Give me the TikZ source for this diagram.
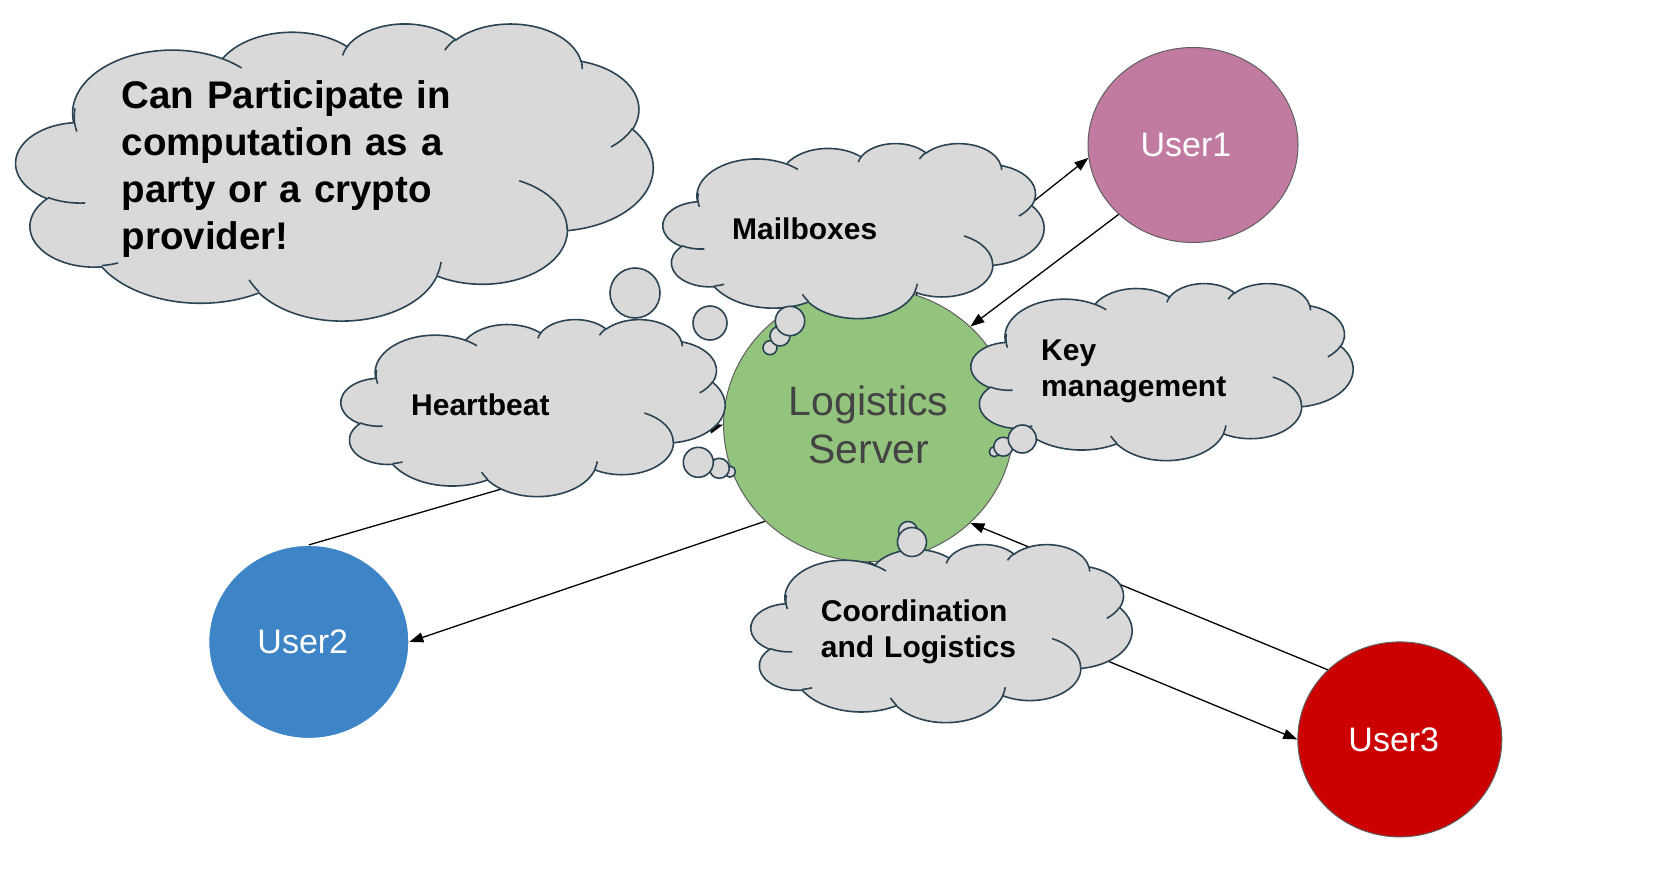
\documentclass[tikz,border=0pt]{standalone}
\usepackage{fontspec}
\setmainfont{Liberation Sans}
\usetikzlibrary{arrows.meta,shapes.geometric}
\definecolor{cloudfill}{HTML}{D9D9D9}
\definecolor{cloudline}{HTML}{2B4454}
\definecolor{serverfill}{HTML}{93C47D}
\definecolor{uonefill}{HTML}{C27BA0}
\definecolor{utwofill}{HTML}{3D85C6}
\definecolor{uthreefill}{HTML}{CC0000}
\definecolor{ringline}{HTML}{5F5F5F}
\definecolor{servertext}{HTML}{434343}
\tikzset{
  blob/.style={ellipse, draw=ringline, line width=1pt, inner sep=0pt},
  usertext/.style={text=white, font=\fontsize{34}{40}\selectfont},
  link/.style={line width=1.3pt, -{Triangle[length=14pt,width=10pt]}},
  plainlink/.style={line width=1.3pt},
  cloudbody/.style={fill=cloudfill, draw=cloudline, line width=1.6pt},
  cloudcrease/.style={draw=cloudline, line width=1.6pt},
  bubble/.style={fill=cloudfill, draw=cloudline, line width=1.6pt},
  cloudtext/.style={anchor=base west, inner sep=0pt, text width=#1, align=left,
    font=\bfseries\fontsize{30}{36}\selectfont},
}
\newcommand\cloudat[4]{%
  \begin{scope}[shift={(#1,#2)}, xscale=#3/100, yscale=#4/100]
    \path[cloudbody] (9.028,33.264)
      arc[x radius=15.632,y radius=21.273,start angle=-187.746,delta angle=128.110]
      arc[x radius=12.345,y radius=16.822,start angle=-152.031,delta angle=106.564]
      arc[x radius=10.104,y radius=13.762,start angle=-153.482,delta angle=116.158]
      arc[x radius=11.243,y radius=15.266,start angle=-139.713,delta angle=129.502]
      arc[x radius=12.345,y radius=16.836,start angle=-74.769,delta angle=97.977]
      arc[x radius=15.683,y radius=21.343,start angle=-37.525,delta angle=119.388]
      arc[x radius=13.391,y radius=18.211,start angle=0.460,delta angle=121.493]
      arc[x radius=15.630,y radius=21.331,start angle=16.844,delta angle=129.401]
      arc[x radius=17.870,y radius=24.405,start angle=59.004,delta angle=91.162]
      arc[x radius=10.093,y radius=13.699,start angle=83.305,delta angle=139.788]
      arc[x radius=10.058,y radius=13.762,start angle=120.375,delta angle=143.735]
      -- cycle;
    \path[cloudcrease]
      (10.863,60.595) arc[x radius=10.058,y radius=13.762,start angle=85.544,delta angle=34.831]
      (16.037,80.785) arc[x radius=10.093,y radius=13.699,start angle=68.255,delta angle=15.050]
      (38.144,90.486) arc[x radius=15.630,y radius=21.331,start angle=146.245,delta angle=12.233]
      (66.729,80.442) arc[x radius=15.630,y radius=21.331,start angle=4.738,delta angle=12.106]
      (79.002,53.134) arc[x radius=13.391,y radius=18.211,start angle=-63.992,delta angle=64.452]
      (96.755,35.542) arc[x radius=12.345,y radius=16.836,start angle=23.208,delta angle=26.445]
      (88.713,12.560) arc[x radius=11.243,y radius=15.266,start angle=-10.211,delta angle=11.032]
      (67.310,9.148) arc[x radius=11.243,y radius=15.266,start angle=-156.285,delta angle=16.572]
      (51.252,10.926) arc[x radius=10.104,y radius=13.762,start angle=-167.727,delta angle=14.245]
      (32.407,12.019) arc[x radius=15.632,y radius=21.273,start angle=-59.636,delta angle=13.889]
      (9.553,36.549) arc[x radius=15.632,y radius=21.273,start angle=166.607,delta angle=21.143];
  \end{scope}}
\begin{document}
\begin{tikzpicture}[x=1pt, y=1pt, yscale=-1]
\useasboundingbox (0,0) rectangle (1661,875);

% main nodes
\node[blob, fill=serverfill, minimum width=290pt, minimum height=274pt,
      text=servertext, align=center, font=\fontsize{41}{47.4}\selectfont]
      (server) at (868.6,424.7) {Logistics\\Server};
\node[blob, fill=uonefill, minimum width=210pt, minimum height=195pt, usertext]
      (user1) at (1193,145) {User1\hspace*{14pt}};
\node[blob, draw=white, fill=utwofill, minimum width=200pt, minimum height=193pt, usertext]
      (user2) at (308.8,641.9) {User2\hspace*{12pt}};
\node[blob, fill=uthreefill, minimum width=204pt, minimum height=195pt, usertext]
      (user3) at (1399.8,739.4) {User3\hspace*{12pt}};

% connectors
\draw[link] (server.70.8) -- (user1.187);
\draw[link] (user1.223.1) -- (server.44.1);
\draw[link] (user2.north) -- (server.west);
\draw[link] (server.223.3) -- (user2.east);
\draw[link] (user3.136.5) -- (server.316.9);
\draw[link] (server.south) -- (user3.west);

% big cloud
\cloudat{16}{23}{637}{297}
\draw[bubble] (710,323) circle[radius=17];
\draw[bubble] (635,293) circle[radius=25];
\node[cloudtext=520pt, font=\bfseries\fontsize{38.5}{47}\selectfont]
      (bigtext) at (121.5,108.3) {Can Participate in\\computation as a\\party or a crypto\\provider!};

% heartbeat cloud
\cloudat{341}{319}{384}{177}
\draw[bubble] (730,471.7) circle[radius=5.5];
\draw[bubble] (719.3,468.3) circle[radius=10];
\draw[bubble] (698.3,462.3) circle[radius=15];
\node[cloudtext=200pt] (heart) at (411,415) {Heartbeat};

% mailboxes cloud
\cloudat{663}{143}{381}{175}
\draw[bubble] (770,347.7) circle[radius=7];
\draw[bubble] (780,336) circle[radius=10];
\draw[bubble] (790,321) circle[radius=14.7];
\node[cloudtext=200pt] (mail) at (732,239) {Mailboxes};

% key management cloud
\cloudat{971}{283}{382}{177}
\draw[bubble] (994.3,451.7) circle[radius=5];
\draw[bubble] (1003.3,446.7) circle[radius=9.5];
\draw[bubble] (1022.3,439) circle[radius=14];
\node[cloudtext=260pt] (key) at (1041,360) {Key\\management};

% coordination cloud
\cloudat{751}{544}{381}{178}
\draw[bubble] (908,531) circle[radius=9.5];
\draw[bubble] (912,542) circle[radius=14.5];
\node[cloudtext=260pt] (coord) at (820.7,621.7) {Coordination\\and Logistics};
\end{tikzpicture}
\end{document}
